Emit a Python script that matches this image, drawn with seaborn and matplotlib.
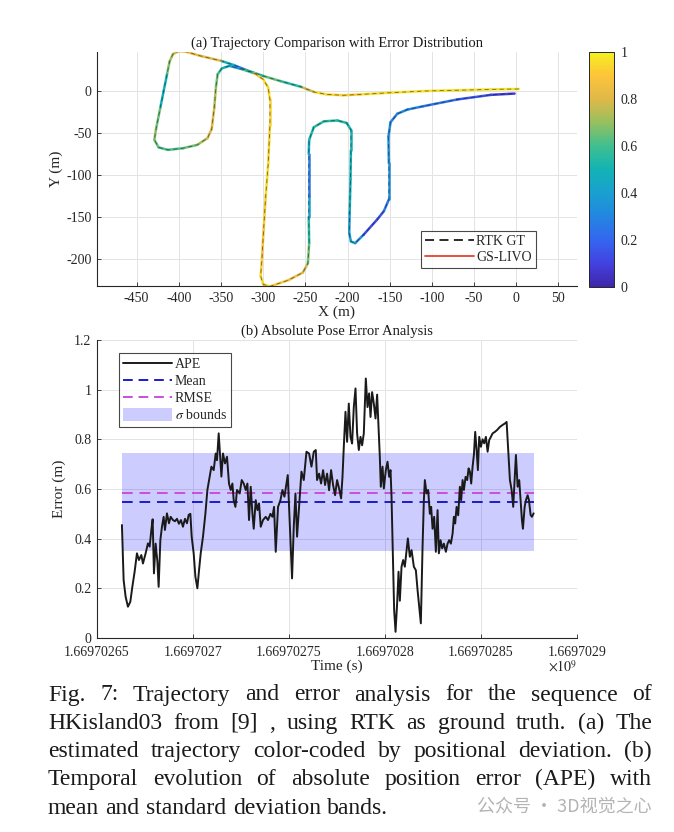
import numpy as np
import matplotlib
matplotlib.use("Agg")
import matplotlib.pyplot as plt
import seaborn as sns
from matplotlib.collections import LineCollection
from matplotlib.colors import LinearSegmentedColormap, Normalize
from matplotlib.lines import Line2D
from matplotlib.patches import Patch

# --- Data: trajectory (m) and positional error along it ---
traj_x = [3, -30, -70, -110, -150, -185, -205, -225, -240, -255, -280, -300, -320, -335,
          -350, -375, -392, -400, -407, -411, -414, -418, -422, -427, -429, -424, -413,
          -395, -378, -366, -361, -358, -356, -354, -349, -340, -325, -310, -300, -294,
          -292, -292, -294, -297, -299.5, -301.5, -303, -300, -292, -270, -253, -247,
          -245.5, -246, -246, -246, -246, -245.5, -240, -228, -212, -201, -196, -196,
          -196.5, -197.5, -198, -196, -191, -181, -165, -157, -151, -151, -151.5, -149,
          -141, -129, -110, -70, -30, -2]
traj_y = [2.5, 2, 1, 0, -2, -4, -5, -4, -1, 5, 12, 18, 25, 31,
          36, 42, 47, 47.5, 44, 35, 20, 0, -20, -45, -58, -67, -70,
          -68, -64, -56, -45, -20, 5, 20, 27, 30, 26, 21, 14, 4,
          -10, -40, -86, -125, -165, -200, -220, -230, -232.5, -225, -216, -205,
          -181, -150, -125, -100, -75, -58, -43, -36, -35, -38, -46, -70,
          -105, -145, -169, -179, -181, -171, -153, -143, -129, -86, -54, -37,
          -27, -22, -18, -10, -4.5, -3]
traj_err = [0.98, 0.96, 0.98, 0.95, 0.98, 0.94, 0.90, 0.96, 0.94, 0.60, 0.50, 0.78, 0.25, 0.20,
            0.78, 0.85, 0.82, 0.80, 0.74, 0.70, 0.65, 0.35, 0.60, 0.70, 0.68, 0.62, 0.60,
            0.62, 0.68, 0.76, 0.82, 0.76, 0.70, 0.62, 0.55, 0.45, 0.30, 0.88, 0.94, 0.96,
            0.94, 0.92, 0.95, 0.96, 0.88, 0.90, 0.95, 0.96, 0.94, 0.88, 0.82, 0.72,
            0.60, 0.50, 0.30, 0.20, 0.35, 0.50, 0.55, 0.55, 0.55, 0.52, 0.50, 0.50,
            0.50, 0.45, 0.30, 0.45, 0.50, 0.15, 0.10, 0.20, 0.30, 0.35, 0.35, 0.28,
            0.30, 0.30, 0.28, 0.20, 0.12, 0.05]

# --- Data: APE over time (s after t0) ---
t0 = 1669702650
ape_t = [12.98, 13.87, 14.91, 16.11, 17.36, 18.40, 19.60, 20.80, 21.84, 23.09,
         23.93, 25.33, 26.53, 27.42, 28.30, 28.98, 29.66, 30.54, 31.43, 32.11,
         32.99, 33.83, 34.71, 35.39, 36.43, 37.48, 38.36, 39.56, 40.60, 41.65,
         42.69, 43.73, 44.77, 45.82, 46.86, 47.75, 48.63, 49.31, 50.35, 51.24,
         52.28, 53.11, 54.00, 55.20, 56.45, 57.49, 58.69, 59.58, 60.78, 61.82,
         62.50, 63.38,
         64.79, 65.62, 66.67, 67.71, 68.75, 69.64, 70.52, 71.20, 72.09, 72.92,
         74.33, 75.37, 76.41, 77.46, 78.34, 79.18, 80.06, 80.95, 81.63, 82.67,
         83.56, 84.39, 85.28, 86.47, 87.88, 89.08, 90.33, 91.37, 92.21, 93.09,
         94.29, 95.54, 96.59, 97.63, 98.67, 99.35, 100.03, 100.91, 101.59, 102.48,
         103.36, 104.20, 105.24, 106.49, 107.69, 109.10, 110.45, 111.70, 112.90, 113.94,
         114.62,
         115.66, 116.71, 117.75, 118.79, 119.83, 120.88, 121.92, 122.96, 124.00, 125.05,
         126.09, 127.13, 127.86, 128.54, 129.42, 130.26, 131.14, 132.03, 132.86, 133.75,
         134.64, 135.47, 136.36, 137.24, 138.08, 138.96, 140.01, 140.89, 141.73, 142.46,
         143.29, 144.18, 145.06, 145.90, 147.30, 147.82, 148.71, 149.39, 150.43, 151.32,
         152.15, 152.88, 153.40, 154.08, 154.76, 155.49, 156.32, 157.05, 157.73, 158.61,
         159.45, 160.33, 161.22, 161.90, 162.94, 163.83, 165.03, 166.07, 166.96,
         167.79, 168.67, 169.56, 170.24, 170.76, 171.64, 172.48, 173.36, 174.04, 174.77,
         175.61, 176.49, 177.38, 178.06, 178.94, 179.78, 180.66, 181.71, 182.59, 183.42,
         184.31, 185.20, 185.87, 186.55, 187.28, 188.12, 189.00, 189.68, 190.41, 191.09,
         191.97, 192.81, 193.54, 194.21, 194.89, 195.62, 196.30, 196.98, 197.71, 198.38,
         199.06, 199.95, 200.83, 201.67, 202.55, 203.44, 204.27, 205.16, 206.05, 207.24,
         208.44, 209.85, 211.26, 212.46, 213.34, 213.86, 214.39, 215.06, 215.95, 216.78,
         217.51, 218.19, 219.08, 219.91, 220.64, 221.32, 221.84, 222.73, 223.40, 224.29,
         224.97, 225.85, 226.53, 227.42]
ape_v = [0.455, 0.233, 0.166, 0.126, 0.146, 0.206, 0.267, 0.341, 0.314, 0.334,
         0.300, 0.341, 0.381, 0.368, 0.435, 0.478, 0.260, 0.380, 0.310, 0.206,
         0.394, 0.448, 0.488, 0.435, 0.502, 0.462, 0.488, 0.475, 0.470, 0.480,
         0.460, 0.475, 0.448, 0.480, 0.462, 0.496, 0.500, 0.408, 0.341, 0.247,
         0.200, 0.270, 0.340, 0.408, 0.500, 0.596, 0.649, 0.690, 0.676, 0.743,
         0.716, 0.824,
         0.650, 0.743, 0.703, 0.730, 0.622, 0.596, 0.622, 0.555, 0.528, 0.596,
         0.582, 0.636, 0.622, 0.596, 0.622, 0.475, 0.609, 0.500, 0.440, 0.555,
         0.515, 0.542, 0.448, 0.475, 0.488, 0.475, 0.500, 0.488, 0.528, 0.347,
         0.528, 0.555, 0.596, 0.569, 0.622, 0.656, 0.528, 0.367, 0.240, 0.448,
         0.582, 0.408, 0.528, 0.670, 0.636, 0.750, 0.743, 0.690, 0.750, 0.757,
         0.636,
         0.662, 0.622, 0.676, 0.616, 0.662, 0.595, 0.676, 0.616, 0.575, 0.636,
         0.602, 0.562, 0.649, 0.770, 0.911, 0.790, 0.944, 0.810, 0.783, 0.930,
         1.005, 0.824, 0.757, 0.810, 0.776, 0.824, 1.045, 0.930, 0.985, 0.890,
         0.990, 0.944, 0.884, 0.980, 0.730, 0.609, 0.690, 0.602, 0.676, 0.710,
         0.649, 0.676, 0.568, 0.341, 0.113, 0.025, 0.140, 0.267, 0.150, 0.287,
         0.314, 0.287, 0.350, 0.401, 0.327, 0.354, 0.287, 0.273, 0.193,
         0.126, 0.059, 0.367, 0.555, 0.636, 0.582, 0.596, 0.500, 0.528, 0.440,
         0.488, 0.347, 0.515, 0.341, 0.394, 0.361, 0.380, 0.347, 0.380, 0.394,
         0.380, 0.420, 0.488, 0.461, 0.528, 0.494, 0.609, 0.555, 0.636, 0.596,
         0.649, 0.636, 0.683, 0.670, 0.622, 0.690, 0.737, 0.830, 0.757, 0.676,
         0.810, 0.770, 0.800, 0.784, 0.810, 0.750, 0.797, 0.810, 0.824, 0.830,
         0.838, 0.850, 0.858, 0.864, 0.870, 0.797, 0.717, 0.636, 0.596, 0.528,
         0.636, 0.737, 0.609, 0.636, 0.555, 0.475, 0.440, 0.528, 0.555, 0.575,
         0.555, 0.495, 0.488, 0.502]
ape_mean = 0.548
ape_rmse = 0.582
ape_std = 0.196

# --- Ticks and text ---
x_ticks = [-450, -400, -350, -300, -250, -200, -150, -100, -50, 0, 50]
y_ticks = [-200, -150, -100, -50, 0]
cbar_ticks = [0, 0.2, 0.4, 0.6, 0.8, 1]
cbar_labels = ["0", "0.2", "0.4", "0.6", "0.8", "1"]
time_ticks = [0, 50, 100, 150, 200, 250]
time_labels = ["1.66970265", "1.6697027", "1.66970275", "1.6697028", "1.66970285", "1.6697029"]
err_ticks = [0, 0.2, 0.4, 0.6, 0.8, 1.0, 1.2]
err_labels = ["0", "0.2", "0.4", "0.6", "0.8", "1", "1.2"]
caption_lines = [
    "Fig. 7: Trajectory and error analysis for the sequence of",
    "HKisland03 from [9] , using RTK as ground truth. (a) The",
    "estimated trajectory color-coded by positional deviation. (b)",
    "Temporal evolution of absolute position error (APE) with",
    "mean and standard deviation bands.",
]
watermark = "公众号 · 3D视觉之心"

# --- Style ---
sns.set_theme(style="ticks")
plt.rcParams["font.family"] = ["Liberation Serif", "DejaVu Serif"]
plt.rcParams["mathtext.fontset"] = "stix"
plt.rcParams["axes.unicode_minus"] = False
ink = "#262626"
grid_c = "#e3e3e3"
# parula-like map
parula = LinearSegmentedColormap.from_list(
    "parula", ["#3e26a8", "#4342e0", "#3466f0", "#2386e0", "#1aa0d0", "#12b3b5",
               "#3fbf90", "#95c060", "#e0b848", "#fcc43a", "#f5f020"])

W, H = 674, 832
fig = plt.figure(figsize=(W / 100, H / 100), dpi=100)


def box(x0, y0, x1, y1):
    return [x0 / W, 1 - y1 / H, (x1 - x0) / W, (y1 - y0) / H]


def style_axes(ax):
    ax.set_axisbelow(True)
    ax.grid(True, color=grid_c, lw=0.7)
    for s in ["top", "right"]:
        ax.spines[s].set_visible(False)
    for s in ["left", "bottom"]:
        ax.spines[s].set_color(ink)
        ax.spines[s].set_linewidth(0.8)
    ax.tick_params(direction="in", length=3, width=0.6, colors=ink, labelsize=10, pad=4)


# --- (a) trajectory ---
ax1 = fig.add_axes(box(97, 52, 577, 286))
style_axes(ax1)
pts = np.column_stack([traj_x, traj_y])
segs = np.stack([pts[:-1], pts[1:]], axis=1)
seg_err = (np.array(traj_err[:-1]) + np.array(traj_err[1:])) / 2
lc = LineCollection(segs, cmap=parula, norm=Normalize(0, 1), linewidths=1.8,
                    capstyle="round", joinstyle="round", zorder=2)
lc.set_array(seg_err)
ax1.add_collection(lc)
sns.lineplot(x=traj_x, y=traj_y, sort=False, estimator=None, color="k", lw=0.6,
             linestyle=(0, (5, 4)), alpha=0.6, ax=ax1, zorder=3)
ax1.set_xlim(-497, 72)
ax1.set_ylim(-232, 46.5)
ax1.set_xticks(x_ticks)
ax1.set_yticks(y_ticks)
ax1.set_xlabel("X (m)", fontsize=11, color=ink, labelpad=1)
ax1.set_ylabel("Y (m)", fontsize=11, color=ink, labelpad=2)
ax1.set_title("(a) Trajectory Comparison with Error Distribution", fontsize=10.5,
              color="k", pad=4)
h1 = [Line2D([], [], color="k", lw=1.3, linestyle=(0, (5, 3))),
      Line2D([], [], color="#e8412c", lw=1.3)]
leg1 = ax1.legend(h1, ["RTK GT", "GS-LIVO"], loc="lower right",
                  bbox_to_anchor=(0.915, 0.077), fontsize=10, frameon=True,
                  fancybox=False, handlelength=3.5, borderpad=0.3, labelspacing=0.2,
                  handletextpad=0.2, borderaxespad=0)
leg1.get_frame().set_edgecolor("k")
leg1.get_frame().set_linewidth(0.8)

cax = fig.add_axes(box(589, 52, 614, 287))
cb = fig.colorbar(lc, cax=cax)
cb.set_ticks(cbar_ticks)
cb.set_ticklabels(cbar_labels)
cb.outline.set_edgecolor(ink)
cb.outline.set_linewidth(0.7)
cax.tick_params(direction="in", length=3, width=0.6, colors=ink, labelsize=10, pad=5)

# --- (b) APE ---
ax2 = fig.add_axes(box(97, 340, 577, 638))
style_axes(ax2)
ax2.tick_params(axis="x", pad=6)
t_abs = [t0 + t for t in ape_t]
ax2.fill_between([t_abs[0], t_abs[-1]], ape_mean - ape_std, ape_mean + ape_std,
                 color=(0.0, 0.0, 1.0, 0.2), lw=0, zorder=1)
ax2.plot([t_abs[0], t_abs[-1]], [ape_mean, ape_mean], color="#1c1cc8", lw=1.4,
         linestyle=(0, (5.5, 3.5)), zorder=2)
ax2.plot([t_abs[0], t_abs[-1]], [ape_rmse, ape_rmse], color="#c84ee0", lw=1.4,
         linestyle=(0, (5.5, 3.5)), zorder=2)
sns.lineplot(x=t_abs, y=ape_v, sort=False, estimator=None, color="k", lw=1.4,
             ax=ax2, zorder=3)
ax2.set_xlim(t0, t0 + 250)
ax2.set_ylim(0, 1.2)
ax2.set_xticks([t0 + t for t in time_ticks])
ax2.set_xticklabels(time_labels)
ax2.set_yticks(err_ticks)
ax2.set_yticklabels(err_labels)
ax2.set_xlabel("Time (s)", fontsize=11, color=ink, labelpad=0)
ax2.set_ylabel("Error (m)", fontsize=11, color=ink, labelpad=6)
ax2.set_title("(b) Absolute Pose Error Analysis", fontsize=10.5, color="k", pad=4)
ax2.text(1.0, -0.07, r"$\times10^{9}$", transform=ax2.transAxes, ha="right",
         va="top", fontsize=10, color=ink)
h2 = [Line2D([], [], color="k", lw=1.4),
      Line2D([], [], color="#1c1cc8", lw=1.4, linestyle=(0, (5, 3))),
      Line2D([], [], color="#c84ee0", lw=1.4, linestyle=(0, (5, 3))),
      Patch(facecolor=(0.0, 0.0, 1.0, 0.2), edgecolor="none")]
leg2 = ax2.legend(h2, ["APE", "Mean", "RMSE", r"$\sigma$ bounds"], loc="upper left",
                  bbox_to_anchor=(0.046, 0.956), fontsize=10, frameon=True,
                  fancybox=False, handlelength=3.5, handleheight=1.0, borderpad=0.3,
                  labelspacing=0.22, handletextpad=0.2, borderaxespad=0)
leg2.get_frame().set_edgecolor("k")
leg2.get_frame().set_linewidth(0.8)

# --- Caption (justified) ---
renderer = fig.canvas.get_renderer()
cap_x0, cap_x1 = 48, 652
baselines = [700.5, 728.8, 757.1, 785.4, 813.7]
for i, (line, yb) in enumerate(zip(caption_lines, baselines)):
    words = line.split()
    texts = [fig.text(0, 1 - yb / H, w, fontsize=17, color="k", va="baseline",
                      ha="left") for w in words]
    widths = [t.get_window_extent(renderer).width for t in texts]
    if i < len(caption_lines) - 1:
        gap = (cap_x1 - cap_x0 - sum(widths)) / (len(words) - 1)
    else:
        gap = 6.5
    x = cap_x0
    for t, w in zip(texts, widths):
        t.set_x(x / W)
        x += w + gap

fig.text(652 / W, 1 - 812 / H, watermark, fontsize=13, color="#b4b4b4",
         ha="right", va="baseline", family=["Noto Sans CJK SC", "DejaVu Sans"])

fig.savefig("out.png", dpi=100)
plt.close(fig)
